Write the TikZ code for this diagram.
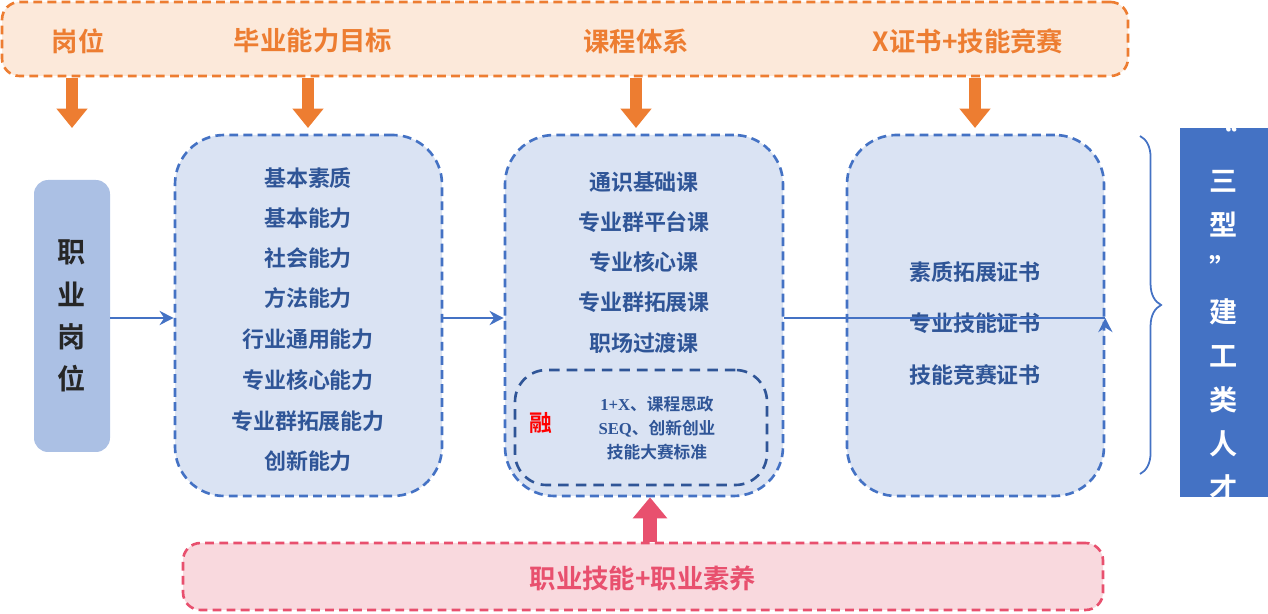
\documentclass[tikz,border=0pt]{standalone}
\usepackage{fontspec}
\setmainfont{Noto Sans CJK SC}[BoldFont={* Bold}]
\newfontfamily\serifcjk{Liberation Serif}
\usetikzlibrary{arrows.meta,decorations.pathreplacing}
\definecolor{org}{HTML}{ED7D31}
\definecolor{orgfill}{HTML}{FCE9DA}
\definecolor{bl}{HTML}{4472C4}
\definecolor{blfill}{HTML}{DAE3F3}
\definecolor{bldark}{HTML}{2F5597}
\definecolor{pinkfill}{HTML}{F9D9DE}
\definecolor{rd}{HTML}{E8506E}
\begin{document}
\begin{tikzpicture}[x=0.02cm,y=-0.02cm,
  dbox/.style={draw=bl,dashed,line width=1.5pt,fill=blfill,rounded corners=28pt,dash pattern=on 5pt off 3pt},
  txt/.style={font=\bfseries\fontsize{12.5}{14}\selectfont,text=bldark},
  toplab/.style={font=\bfseries\fontsize{15}{17}\selectfont,text=org},
  oarrow/.style={draw=org,line width=7pt,-{Triangle[length=11pt,width=17pt]}},
  barrow/.style={draw=bl,line width=1.5pt,-{Stealth[length=8pt,width=8pt]}}]
\useasboundingbox (0,0) rectangle (1268,614);
% top bar
\node[draw=org,dashed,line width=1.5pt,fill=orgfill,rounded corners=10pt,dash pattern=on 5pt off 3pt,minimum width=1126*0.02cm,minimum height=74*0.02cm] (top) at (565,39) {};
\node[toplab] (t1) at (78,41) {岗位};
\node[toplab] (t2) at (313,41) {毕业能力目标};
\node[toplab] (t3) at (636,41) {课程体系};
\node[toplab] (t4) at (968,41) {X证书+技能竞赛};
\coordinate (a1s) at (72,78); \coordinate (a1e) at (72,128);
\coordinate (a2s) at (308,78); \coordinate (a2e) at (308,128);
\coordinate (a3s) at (636,78); \coordinate (a3e) at (636,128);
\coordinate (a4s) at (975,78); \coordinate (a4e) at (975,128);
\draw[oarrow] (a1s)--(a1e); \draw[oarrow] (a2s)--(a2e);
\draw[oarrow] (a3s)--(a3e); \draw[oarrow] (a4s)--(a4e);
% left post box
\node[fill=bl!45!white,rounded corners=8pt,minimum width=76*0.02cm,minimum height=272*0.02cm] (post) at (72,316) {};
\node[font=\bfseries\fontsize{16}{24}\selectfont,text=black!85,align=center] at (post) {职\\业\\岗\\位};
% box2
\node[dbox,minimum width=267*0.02cm,minimum height=361*0.02cm] (b2) at (308.5,315.5) {};
\foreach \t/\y in {基本素质/178,基本能力/218,社会能力/258,方法能力/298,行业通用能力/339,专业核心能力/380,专业群拓展能力/421,创新能力/461}
  \node[txt] at (308,\y) {\t};
% box3
\node[dbox,minimum width=278*0.02cm,minimum height=361*0.02cm] (b3) at (644,315.5) {};
\foreach \t/\y in {通识基础课/182,专业群平台课/222,专业核心课/262,专业群拓展课/302,职场过渡课/343}
  \node[txt] at (644,\y) {\t};
\node[draw=bldark,dashed,line width=1.5pt,rounded corners=18pt,dash pattern=on 6pt off 4pt,minimum width=252*0.02cm,minimum height=115*0.02cm] (inner) at (641,427.5) {};
\node[font=\bfseries\fontsize{13}{15}\selectfont,text=red] (rong) at (541,423) {融};
\node[font=\bfseries\fontsize{9.5}{13.5}\selectfont,text=bldark,align=center] (innt) at (657,428) {{\serifcjk 1+X}、课程思政\\{\serifcjk SEQ}、创新创业\\技能大赛标准};
% box4
\node[dbox,minimum width=257*0.02cm,minimum height=361*0.02cm] (b4) at (975.5,315.5) {};
\foreach \t/\y in {素质拓展证书/272,专业技能证书/323,技能竞赛证书/375}
  \node[txt] at (975,\y) {\t};
% blue arrows
\draw[barrow] (post.east|-0,318) -- (b2.west|-0,318);
\draw[barrow] (b2.east|-0,318) -- (b3.west|-0,318);
\draw[barrow] (b3.east|-0,318) -- (b4.east|-0,318) ++(0,0);
% brace
\coordinate (br1) at (1140,136); \coordinate (br2) at (1140,474);
\draw[bl,line width=1pt,decorate,decoration={brace,amplitude=12pt}] (br1) -- (br2);
% right box
\node[fill=bl,minimum width=88*0.02cm,minimum height=369*0.02cm] (talent) at (1224,312.5) {};
\node[font=\bfseries\fontsize{16}{25}\selectfont,text=white,align=center] at (1224,312) {“\\三\\型\\”\\建\\工\\类\\人\\才};
% bottom
\node[draw=rd,dashed,line width=1.5pt,fill=pinkfill,rounded corners=10pt,dash pattern=on 5pt off 3pt,minimum width=920*0.02cm,minimum height=67*0.02cm] (bot) at (643,576.5) {};
\node[font=\bfseries\fontsize{15}{17}\selectfont,text=rd] at (643,578) {职业技能+职业素养};
\draw[draw=rd,line width=8pt,-{Triangle[length=12pt,width=19pt]}] (bot.north-|650,0) -- (b3.south-|650,0);
\end{tikzpicture}
\end{document}
